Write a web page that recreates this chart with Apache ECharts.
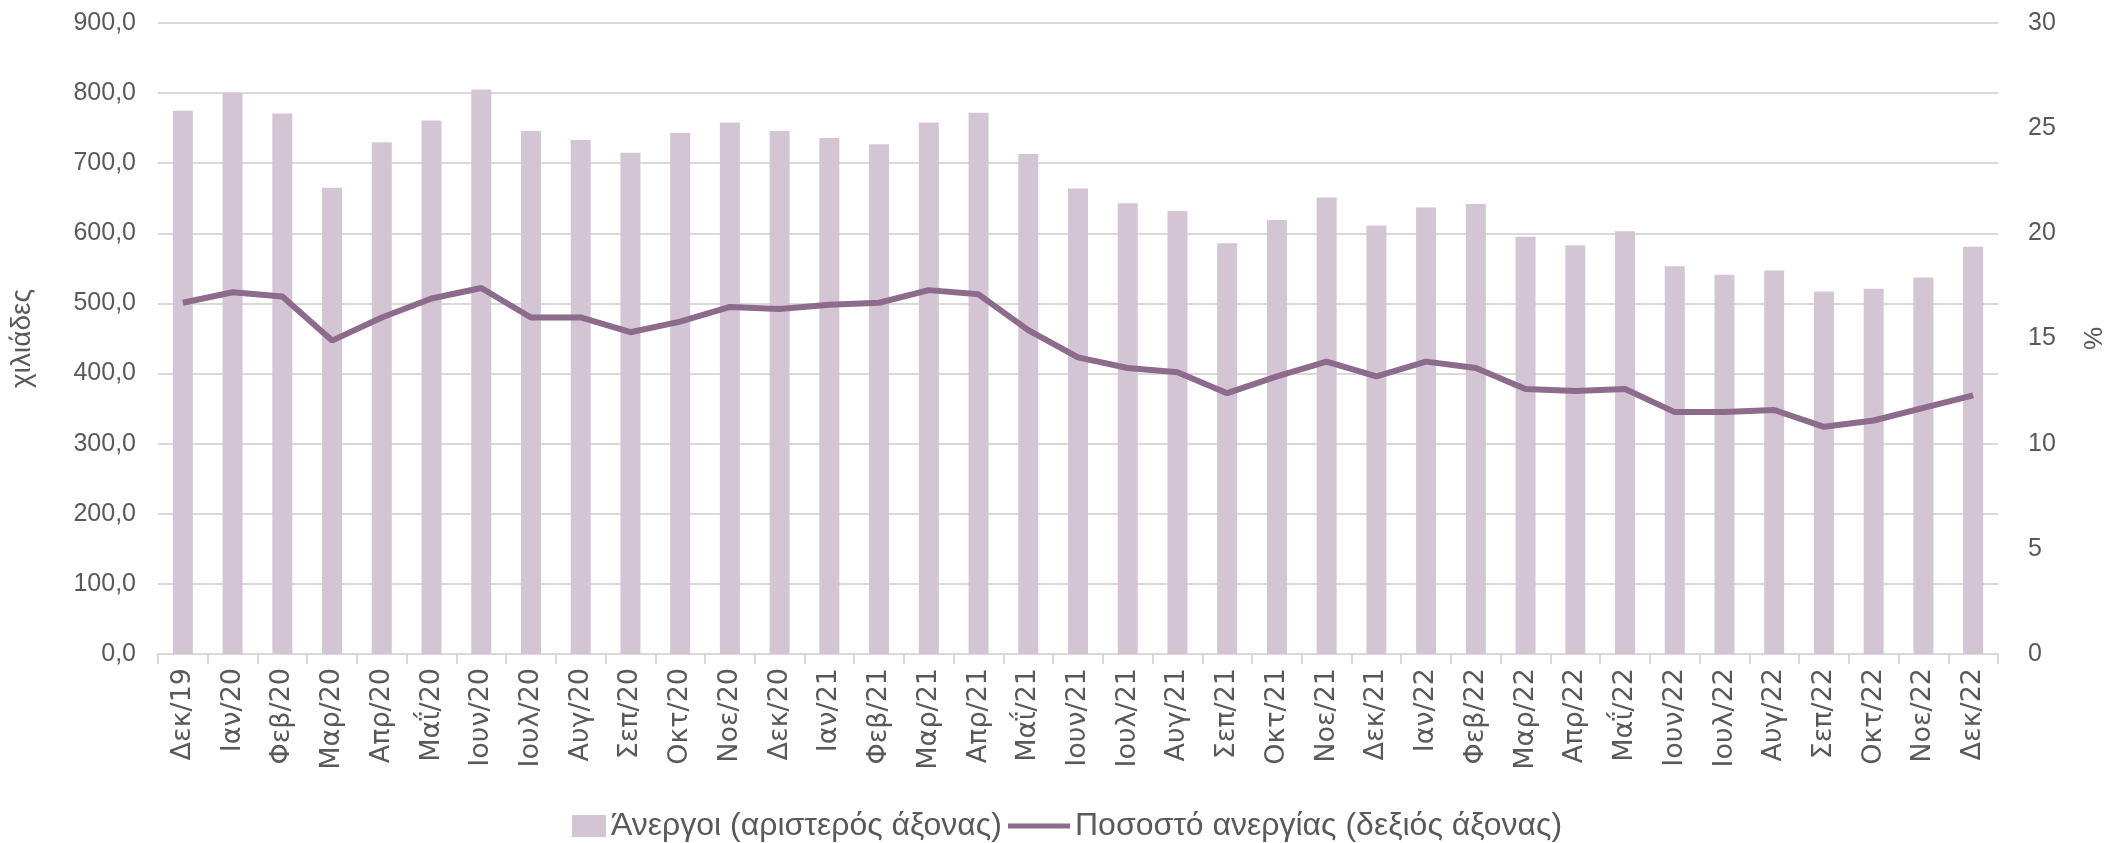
<!DOCTYPE html>
<html>
<head>
<meta charset="utf-8">
<title>Άνεργοι και ποσοστό ανεργίας</title>
<script src="https://cdn.jsdelivr.net/npm/echarts@6/dist/echarts.min.js"></script>
<style>
	html, body { margin: 0; padding: 0; background: #fff; }
	#chart { width: 2116px; height: 843px; }
</style>
</head>
<body>
<div id="chart"></div>
<script>
// μήνες (άξονας x)
let months = ["Δεκ/19", "Ιαν/20", "Φεβ/20", "Μαρ/20", "Απρ/20", "Μαΐ/20", "Ιουν/20", "Ιουλ/20", "Αυγ/20", "Σεπ/20", "Οκτ/20", "Νοε/20",
	"Δεκ/20", "Ιαν/21", "Φεβ/21", "Μαρ/21", "Απρ/21", "Μαΐ/21", "Ιουν/21", "Ιουλ/21", "Αυγ/21", "Σεπ/21", "Οκτ/21", "Νοε/21",
	"Δεκ/21", "Ιαν/22", "Φεβ/22", "Μαρ/22", "Απρ/22", "Μαΐ/22", "Ιουν/22", "Ιουλ/22", "Αυγ/22", "Σεπ/22", "Οκτ/22", "Νοε/22", "Δεκ/22"];

// άνεργοι σε χιλιάδες (αριστερός άξονας)
let unemployed = [775, 800, 771, 665, 730, 761, 805, 746, 733, 715, 743, 758,
	746, 736, 727, 758, 772, 713, 664, 643, 632, 586, 619, 651,
	611, 637, 642, 595, 583, 603, 553, 541, 547, 517, 521, 537, 581];

// ποσοστό ανεργίας % (δεξιός άξονας)
let rate = [16.7, 17.2, 17.0, 14.9, 16.0, 16.9, 17.4, 16.0, 16.0, 15.3, 15.8, 16.5,
	16.4, 16.6, 16.7, 17.3, 17.1, 15.4, 14.1, 13.6, 13.4, 12.4, 13.2, 13.9,
	13.2, 13.9, 13.6, 12.6, 12.5, 12.6, 11.5, 11.5, 11.6, 10.8, 11.1, 11.7, 12.3];

let leftTicks = { min: 0, max: 900, interval: 100 };
let rightTicks = { min: 0, max: 30, interval: 5 };

let barName = "Άνεργοι (αριστερός άξονας)";
let lineName = "Ποσοστό ανεργίας (δεξιός άξονας)";

let textColor = "#595959";
let gridColor = "#d9d9d9";
let barColor = "#d3c5d3";
let lineColor = "#8c6b8c";
// το τμήμα Σεπ/21 - Οκτ/21 έχει λίγο πιο μπλε απόχρωση στο πρωτότυπο
let segColor = "#7c62a2";

let legendText = { fontFamily: "Liberation Sans", fontSize: 32, color: textColor };

let myChart = echarts.init(document.getElementById("chart"), null, { renderer: "canvas" });
let option = {
	animation: false,
	backgroundColor: "#fff",
	grid: { left: 158, right: 102, top: 23, bottom: 189 },
	// δύο υπομνήματα ώστε το καθένα να έχει δικό του μέγεθος εικονιδίου
	legend: [
		{
			left: 567,
			top: 805,
			itemGap: 0,
			itemWidth: 34,
			itemHeight: 22,
			textStyle: legendText,
			data: [{ name: barName, icon: "rect" }]
		},
		{
			left: 1003,
			top: 805,
			itemGap: 0,
			itemWidth: 62,
			itemHeight: 22,
			textStyle: legendText,
			data: [{ name: lineName, icon: "path://M0 0 H60 V5 H0 Z", itemStyle: { color: lineColor } }]
		}
	],
	visualMap: {
		show: false,
		type: "piecewise",
		seriesIndex: 1,
		dimension: 0,
		pieces: [
			{ lt: 21, color: lineColor },
			{ gte: 21, lte: 22, color: segColor },
			{ gt: 22, color: lineColor }
		]
	},
	xAxis: {
		type: "category",
		data: months,
		boundaryGap: true,
		axisLine: { lineStyle: { color: gridColor, width: 2 } },
		axisTick: { show: true, length: 10, lineStyle: { color: gridColor, width: 2 } },
		axisLabel: {
			rotate: 90,
			interval: 0,
			margin: 14,
			fontFamily: "DejaVu Sans",
			fontSize: 27,
			color: textColor
		}
	},
	yAxis: [
		{
			type: "value",
			min: leftTicks.min,
			max: leftTicks.max,
			interval: leftTicks.interval,
			name: "χιλιάδες",
			nameLocation: "middle",
			nameGap: 122,
			nameTextStyle: { fontFamily: "Liberation Sans", fontSize: 28, color: textColor },
			axisLine: { show: false },
			axisTick: { show: false },
			splitLine: { lineStyle: { color: gridColor, width: 2 } },
			axisLabel: {
				margin: 22,
				fontFamily: "Liberation Sans",
				fontSize: 25,
				color: textColor,
				formatter: function (v) { return v.toFixed(1).replace(".", ","); }
			}
		},
		{
			type: "value",
			min: rightTicks.min,
			max: rightTicks.max,
			interval: rightTicks.interval,
			name: "%",
			nameLocation: "middle",
			nameGap: 84,
			nameRotate: 90,
			nameTextStyle: { fontFamily: "Liberation Sans", fontSize: 26, color: textColor },
			axisLine: { show: false },
			axisTick: { show: false },
			splitLine: { show: false },
			axisLabel: {
				margin: 30,
				fontFamily: "Liberation Sans",
				fontSize: 25,
				color: textColor
			}
		}
	],
	series: [
		{
			name: barName,
			type: "bar",
			yAxisIndex: 0,
			data: unemployed,
			barWidth: 20,
			itemStyle: { color: barColor }
		},
		{
			name: lineName,
			type: "line",
			yAxisIndex: 1,
			data: rate,
			symbol: "none",
			lineStyle: { color: lineColor, width: 6 },
			itemStyle: { color: lineColor }
		}
	]
};
myChart.setOption(option);
</script>
</body>
</html>
